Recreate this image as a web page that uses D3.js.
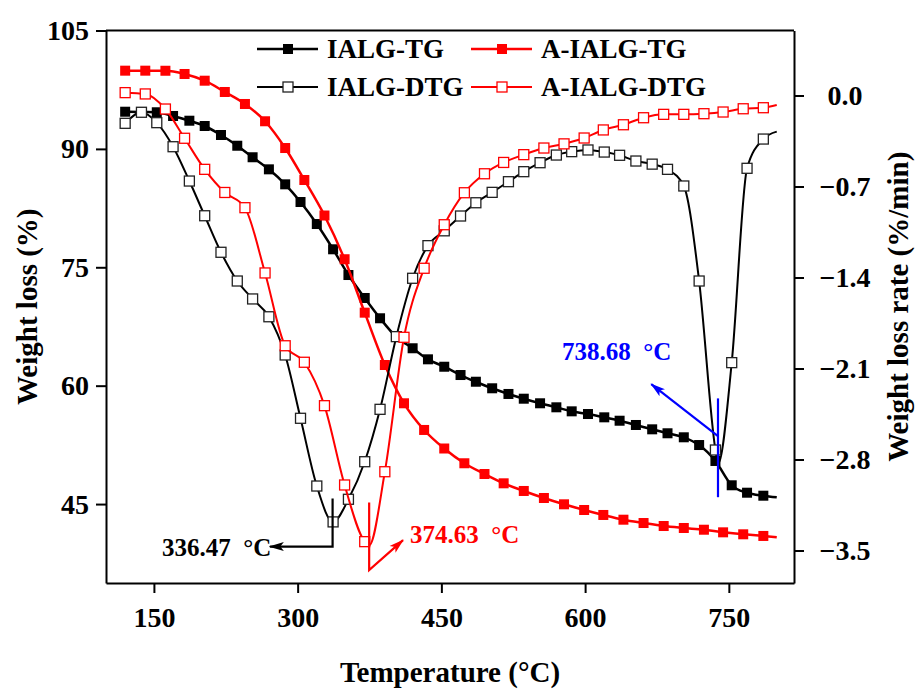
<!DOCTYPE html>
<html lang="en">
<head>
<meta charset="utf-8">
<title>TG / DTG</title>
<script src="https://d3js.org/d3.v7.min.js"></script>
<style>
  body { margin: 0; background: #fff; }
  text { font-family: 'Liberation Serif', 'Times New Roman', serif; font-weight: bold; }
  .axis path, .axis line { stroke: #000; stroke-width: 2; }
  .axis text { font-size: 28px; fill: #000; font-family: 'Liberation Serif', serif; }
  .note { font-size: 25px; white-space: pre; }
</style>
</head>
<body>
<div id="container"></div>
<script>
// ---- data ----
// marker temperatures (the two samples have different point spacing)
var tempIALG = [120,137,153,170,187,203,220,237,253,270,287,303,320,337,353,370,386,403,420,436,
                453,470,486,503,520,536,553,570,586,603,620,636,653,670,686,703,719,736,753,769,786];
var tempAIALG = [120,141,162,182,203,224,245,266,287,307,328,349,370,391,411,432,453,474,495,515,
                 536,557,578,599,619,640,661,682,703,724,744,765,786];

// weight loss (%)
var ialgTG = [94.71,94.67,94.64,94.17,93.57,92.90,91.76,90.40,88.94,87.41,85.51,83.27,80.48,77.28,74.02,
              71.11,68.54,66.17,64.74,63.34,62.40,61.35,60.50,59.67,58.95,58.35,57.77,57.26,56.75,56.41,
              55.99,55.56,55.02,54.47,53.97,53.46,52.48,50.46,47.38,46.44,46.06];
var aialgTG = [99.91,99.91,99.90,99.49,98.64,97.21,95.69,93.50,90.11,86.06,81.56,76.02,69.25,62.62,57.77,
               54.39,52.04,50.17,48.81,47.63,46.66,45.77,44.97,44.25,43.62,43.02,42.60,42.22,41.97,41.75,
               41.42,41.17,40.96];

// weight loss rate (%/min)
var ialgDTG = [-0.214,-0.129,-0.209,-0.394,-0.658,-0.925,-1.206,-1.427,-1.565,-1.702,-1.996,-2.483,-3.004,-3.28,
               -3.106,-2.817,-2.414,-1.855,-1.406,-1.155,-1.041,-0.927,-0.825,-0.745,-0.663,-0.586,-0.517,-0.458,
               -0.432,-0.419,-0.435,-0.46,-0.504,-0.528,-0.568,-0.696,-1.427,-2.727,-2.055,-0.56,-0.335];
var aialgDTG = [0.022,0.012,-0.104,-0.329,-0.568,-0.746,-0.863,-1.365,-1.925,-2.052,-2.386,-2.996,-3.432,-2.894,
                -1.86,-1.329,-0.994,-0.748,-0.602,-0.515,-0.455,-0.404,-0.372,-0.327,-0.265,-0.225,-0.171,-0.145,
                -0.145,-0.14,-0.127,-0.102,-0.094];

// curve points without a marker (peaks, line ends)
var ialgTGExtra = [[800, 45.86]];
var aialgTGExtra = [[800, 40.79]];
var ialgDTGExtra = [[738.68, -2.835], [800, -0.278]];
var aialgDTGExtra = [[374.63, -3.46], [800, -0.073]];

var xTicks = [150, 300, 450, 600, 750];
var yLeftTicks = [45, 60, 75, 90, 105];
var yRightTicks = [0, -0.7, -1.4, -2.1, -2.8, -3.5];

var seriesNames = ["IALG-TG", "A-IALG-TG", "IALG-DTG", "A-IALG-DTG"];

// ---- chart ----
var w = 916, h = 690;
var L = 106, R = 794, T = 30.5, B = 583;

var svg = d3.select("#container").append("svg")
    .attr("width", w).attr("height", h)
    .style("background-color", "white");

var x = d3.scaleLinear().domain([100, 818]).range([L, R]);
var yL = d3.scaleLinear().domain([35, 105]).range([B, T]);
var yR = d3.scaleLinear().domain([-3.75, 0.5]).range([B, T]);

// axes
svg.append("g").attr("class", "axis")
    .attr("transform", "translate(0," + B + ")")
    .call(d3.axisBottom(x).tickValues(xTicks).tickSize(10).tickSizeOuter(0).tickPadding(14));

svg.append("g").attr("class", "axis")
    .attr("transform", "translate(" + L + ",0)")
    .call(d3.axisLeft(yL).tickValues(yLeftTicks).tickSize(10).tickSizeOuter(0).tickPadding(7));

var rAxis = svg.append("g").attr("class", "axis")
    .attr("transform", "translate(" + R + ",0)")
    .call(d3.axisRight(yR).tickValues(yRightTicks).tickFormat(d3.format(".1f")).tickSize(10).tickSizeOuter(0));
rAxis.selectAll("text").attr("x", 51).attr("text-anchor", "middle");

// top frame line
svg.append("line")
    .attr("x1", L).attr("x2", R).attr("y1", T).attr("y2", T)
    .attr("stroke", "#000").attr("stroke-width", 2);

// axis titles
svg.append("text")
    .attr("transform", "translate(37," + ((T + B) / 2) + ") rotate(-90)")
    .attr("text-anchor", "middle").style("font-size", "29px")
    .text("Weight loss (%)");
svg.append("text")
    .attr("transform", "translate(908," + ((T + B) / 2) + ") rotate(-90)")
    .attr("text-anchor", "middle").style("font-size", "29px")
    .text("Weight loss rate (%/min)");
svg.append("text")
    .attr("x", (L + R) / 2).attr("y", 682)
    .attr("text-anchor", "middle").style("font-size", "29px")
    .text("Temperature (\u00b0C)");

// ---- series ----
function points(temps, vals) {
  return temps.map(function(t, i) { return [t, vals[i]]; });
}
function linePts(temps, vals, extra) {
  return points(temps, vals).concat(extra).sort(function(a, b) { return a[0] - b[0]; });
}

var series = [
  {name: seriesNames[0], temps: tempIALG, vals: ialgTG, extra: ialgTGExtra, y: yL, color: "#000", filled: true},
  {name: seriesNames[1], temps: tempAIALG, vals: aialgTG, extra: aialgTGExtra, y: yL, color: "#ff0000", filled: true},
  {name: seriesNames[2], temps: tempIALG, vals: ialgDTG, extra: ialgDTGExtra, y: yR, color: "#000", filled: false},
  {name: seriesNames[3], temps: tempAIALG, vals: aialgDTG, extra: aialgDTGExtra, y: yR, color: "#ff0000", filled: false}
];

function drawMarker(g, filled, color, cx, cy) {
  if (filled) {
    g.append("rect").attr("x", cx - 5).attr("y", cy - 5).attr("width", 10).attr("height", 10)
      .attr("fill", color);
  } else {
    g.append("rect").attr("x", cx - 5).attr("y", cy - 5).attr("width", 10).attr("height", 10)
      .attr("fill", "#fff").attr("stroke", color === "#000" ? "#222" : color).attr("stroke-width", 1.3);
  }
}

series.forEach(function(s) {
  var g = svg.append("g");
  var line = d3.line()
      .x(function(d) { return x(d[0]); })
      .y(function(d) { return s.y(d[1]); })
      .curve(d3.curveMonotoneX);
  g.append("path")
      .datum(linePts(s.temps, s.vals, s.extra))
      .attr("d", line)
      .attr("fill", "none")
      .attr("stroke", s.color)
      .attr("stroke-width", s.filled ? 2.5 : 2);
  points(s.temps, s.vals).forEach(function(d) {
    drawMarker(g, s.filled, s.color, x(d[0]), s.y(d[1]));
  });
});

// ---- legend ----
var legendPos = [[257, 49], [471, 49], [257, 87], [471, 87]];
series.forEach(function(s, i) {
  var lx = legendPos[i][0], ly = legendPos[i][1];
  var g = svg.append("g");
  g.append("line").attr("x1", lx).attr("x2", lx + 61).attr("y1", ly).attr("y2", ly)
    .attr("stroke", s.color).attr("stroke-width", s.filled ? 2.5 : 2);
  drawMarker(g, s.filled, s.color, lx + 31, ly);
  g.append("text").attr("x", lx + 70).attr("y", ly).attr("dy", "0.35em")
    .style("font-size", "27px").attr("fill", "#000").text(s.name);
});

// ---- peak annotations ----
var defs = svg.append("defs");
[["arrowK", "#000"], ["arrowR", "#ff0000"], ["arrowB", "#0000ff"]].forEach(function(a) {
  defs.append("marker").attr("id", a[0])
    .attr("viewBox", "0 -5 15 10").attr("refX", 14).attr("refY", 0)
    .attr("markerWidth", 15).attr("markerHeight", 10)
    .attr("markerUnits", "userSpaceOnUse").attr("orient", "auto")
    .append("path").attr("d", "M0,-4.5L15,0L0,4.5L3.5,0Z").attr("fill", a[1]);
});

// IALG first peak
svg.append("path")
  .attr("d", "M" + x(336.47) + "," + yR(-3.1) + "V" + yR(-3.47) + "H" + x(271))
  .attr("fill", "none").attr("stroke", "#000").attr("stroke-width", 2.2)
  .attr("marker-end", "url(#arrowK)");
svg.append("text").attr("class", "note").attr("x", 162).attr("y", 556)
  .attr("fill", "#000").text("336.47  \u00b0C");

// A-IALG peak
svg.append("path")
  .attr("d", "M" + x(374.63) + "," + yR(-3.13) + "V" + yR(-3.65) + "L" + x(410) + "," + yR(-3.42))
  .attr("fill", "none").attr("stroke", "#ff0000").attr("stroke-width", 2.2)
  .attr("marker-end", "url(#arrowR)");
svg.append("text").attr("class", "note").attr("x", 410).attr("y", 543)
  .attr("fill", "#ff0000").text("374.63  \u00b0C");

// IALG second peak
svg.append("line")
  .attr("x1", x(738.68)).attr("x2", x(738.68)).attr("y1", yR(-2.33)).attr("y2", yR(-3.09))
  .attr("stroke", "#0000ff").attr("stroke-width", 2.2);
svg.append("line")
  .attr("x1", x(738.68)).attr("y1", yR(-2.62)).attr("x2", x(669)).attr("y2", yR(-2.22))
  .attr("stroke", "#0000ff").attr("stroke-width", 2.2)
  .attr("marker-end", "url(#arrowB)");
svg.append("text").attr("class", "note").attr("x", 562).attr("y", 360)
  .attr("fill", "#0000ff").text("738.68  \u00b0C");
</script>
</body>
</html>
